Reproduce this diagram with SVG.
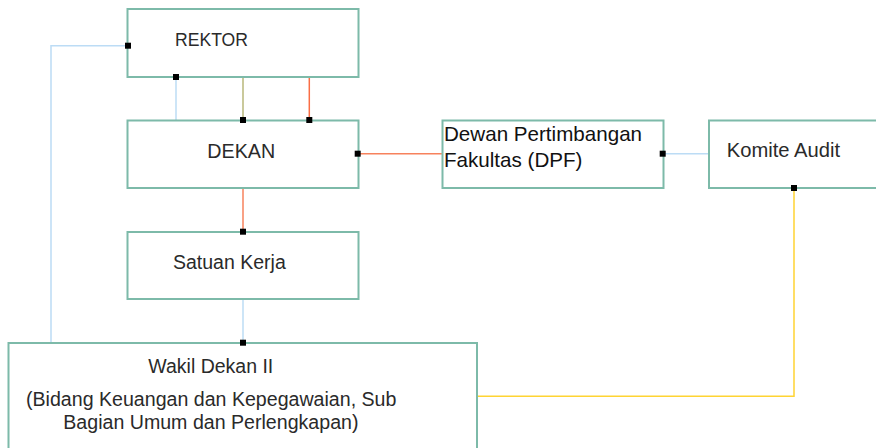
<svg xmlns="http://www.w3.org/2000/svg" width="876" height="448" viewBox="0 0 876 448">
<style>
.box{fill:#ffffff;stroke:#7dbaa9;stroke-width:2}
.t{font-family:"Liberation Sans",Arial,sans-serif;fill:#2a2a2a}
.c{fill:none;stroke-width:1.5}
.m{fill:#000000}
</style>
<rect width="876" height="448" fill="#ffffff"/>
<g id="connectors">
<path class="c" stroke="#bcdcf5" d="M128 45.7 H51 V343"/>
<path class="c" stroke="#bcdcf5" d="M176 77 V120"/>
<path class="c" stroke="#b8b77a" d="M243 77 V120"/>
<path class="c" stroke="#fa6e45" d="M309.3 77 V120"/>
<path class="c" stroke="#f7825d" d="M358 153.7 H442.5"/>
<path class="c" stroke="#f7825d" d="M243 188 V232"/>
<path class="c" stroke="#bcdcf5" d="M243 299 V343"/>
<path class="c" stroke="#bcdcf5" d="M663 153.7 H709"/>
<path class="c" stroke="#ffd433" d="M794 188 V396.3 H477"/>
</g>
<g id="rektor">
<rect class="box" x="127.5" y="9" width="231" height="68"/>
<text class="t" x="175" y="46" font-size="17.6">REKTOR</text>
</g>
<g id="dekan">
<rect class="box" x="127.5" y="120.5" width="231" height="67.5"/>
<text class="t" x="207.3" y="158.3" font-size="19.7">DEKAN</text>
</g>
<g id="dpf">
<rect class="box" x="442.5" y="120.5" width="221" height="67.5"/>
<text class="t" x="444" y="141" font-size="20.6" style="fill:#111111">Dewan Pertimbangan</text>
<text class="t" x="444" y="166.7" font-size="20.6" style="fill:#111111">Fakultas (DPF)</text>
</g>
<g id="komite">
<rect class="box" x="709" y="120.5" width="180" height="67.5"/>
<text class="t" x="726.7" y="157.3" font-size="20.2">Komite Audit</text>
</g>
<g id="satuan">
<rect class="box" x="127.5" y="232" width="231" height="67"/>
<text class="t" x="173" y="269.3" font-size="19.5">Satuan Kerja</text>
</g>
<g id="wakil">
<rect class="box" x="8.5" y="343" width="468.5" height="120"/>
<text class="t" x="148.3" y="372.7" font-size="19.5">Wakil Dekan II</text>
<text class="t" x="26" y="405.7" font-size="19.6">(Bidang Keuangan dan Kepegawaian, Sub</text>
<text class="t" x="63.3" y="428.7" font-size="19.6">Bagian Umum dan Perlengkapan)</text>
</g>
<g id="markers">
<rect class="m" x="125" y="42.7" width="6" height="6"/>
<rect class="m" x="173" y="74" width="6" height="6"/>
<rect class="m" x="240" y="117" width="6" height="6"/>
<rect class="m" x="306.3" y="117" width="6" height="6"/>
<rect class="m" x="354.7" y="150.7" width="6" height="6"/>
<rect class="m" x="240" y="228.7" width="6" height="6"/>
<rect class="m" x="240" y="339.7" width="6" height="6"/>
<rect class="m" x="659.7" y="150.7" width="6" height="6"/>
<rect class="m" x="791" y="185" width="6" height="6"/>
</g>
</svg>
